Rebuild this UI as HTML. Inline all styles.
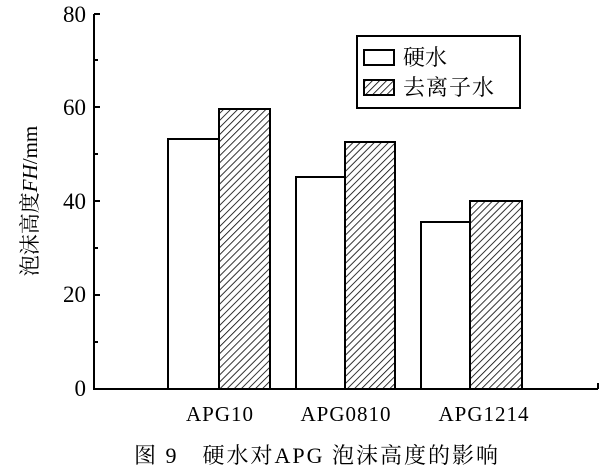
<!DOCTYPE html>
<html><head><meta charset="utf-8"><style>
body{margin:0;background:#fff;}
svg text{font-family:"Liberation Serif","Noto Serif CJK SC",serif;fill:#000;}
</style></head><body>
<svg width="614" height="470" viewBox="0 0 614 470" xmlns="http://www.w3.org/2000/svg">
<defs>
<pattern id="h" patternUnits="userSpaceOnUse" width="5" height="5" patternTransform="rotate(45)">
<rect width="5" height="5" fill="#fff"/>
<line x1="0" y1="0" x2="0" y2="5" stroke="#000" stroke-width="1.6"/>
</pattern>
</defs>
<g stroke="#000" stroke-width="2" fill="none">
<line x1="94" y1="14" x2="94" y2="389"/>
<line x1="93" y1="389" x2="598" y2="389"/>
<line x1="598" y1="389" x2="598" y2="383"/>
<line x1="94" y1="14" x2="100" y2="14"/>
<line x1="94" y1="60" x2="98" y2="60"/>
<line x1="94" y1="107" x2="100" y2="107"/>
<line x1="94" y1="154" x2="98" y2="154"/>
<line x1="94" y1="201" x2="100" y2="201"/>
<line x1="94" y1="248" x2="98" y2="248"/>
<line x1="94" y1="295" x2="100" y2="295"/>
<line x1="94" y1="342" x2="98" y2="342"/>
<rect x="168" y="139" width="51" height="250" fill="#fff"/>
<rect x="219" y="109" width="51" height="280" fill="url(#h)"/>
<rect x="296" y="177" width="49" height="212" fill="#fff"/>
<rect x="345" y="142" width="50" height="247" fill="url(#h)"/>
<rect x="421" y="222" width="49" height="167" fill="#fff"/>
<rect x="470" y="201" width="52" height="188" fill="url(#h)"/>
<rect x="357" y="36" width="163" height="72" fill="#fff"/>
<rect x="364" y="50" width="30" height="15" fill="#fff"/>
<rect x="364" y="80" width="30" height="15" fill="url(#h)"/>
</g>
<g font-size="23" text-anchor="end">
<text x="86" y="22">80</text>
<text x="86" y="115">60</text>
<text x="86" y="209">40</text>
<text x="86" y="302">20</text>
<text x="86" y="396">0</text>
</g>
<text x="403" y="65" font-size="22">硬水</text>
<text x="403" y="95" font-size="22" letter-spacing="1">去离子水</text>
<g font-size="21" text-anchor="middle" letter-spacing="1">
<text x="220" y="421">APG10</text>
<text x="346" y="421">APG0810</text>
<text x="484" y="421">APG1214</text>
</g>
<text transform="translate(37,201) rotate(-90)" font-size="21" text-anchor="middle">泡沫高度<tspan font-style="italic">FH</tspan>/mm</text>
<text x="317" y="463" font-size="22" text-anchor="middle" letter-spacing="2">图 9　硬水对APG 泡沫高度的影响</text>
</svg>
</body></html>
